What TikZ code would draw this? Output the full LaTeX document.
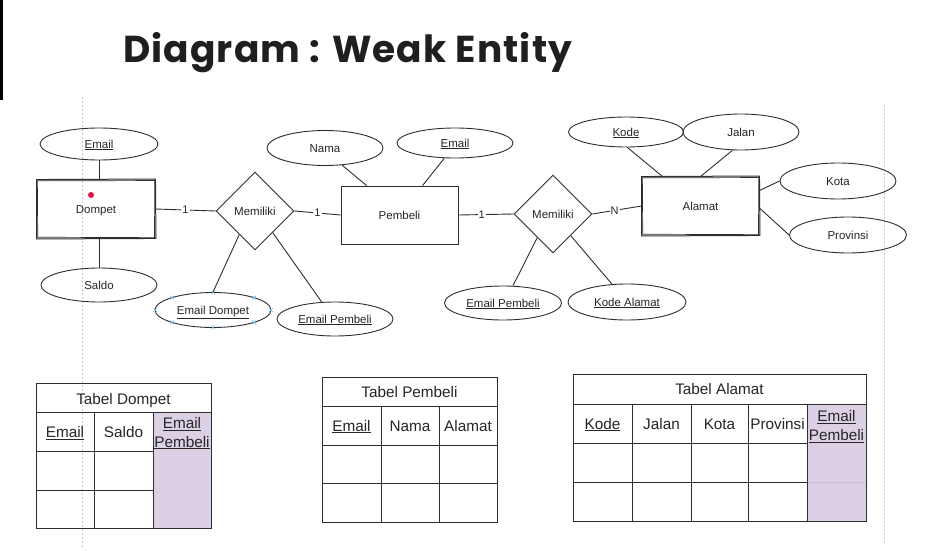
\documentclass[tikz,border=0pt]{standalone}
\usepackage{fontspec}
\setmainfont{Liberation Sans}
\newfontfamily\titlefont[LetterSpace=3]{Poppins}
\usetikzlibrary{shapes.geometric,calc}
\definecolor{ln}{HTML}{2E2E2E}
\definecolor{lav}{HTML}{DCD0E5}
\definecolor{lavline}{HTML}{C9BDD3}
\definecolor{guide}{HTML}{C8C8C8}
\definecolor{selc}{HTML}{6EC6F0}
\definecolor{dotred}{HTML}{E3173E}
\newcommand\ulx[1]{\underline{#1}}
\begin{document}
\begin{tikzpicture}[x=1pt,y=-1pt,
  erfont/.style={text=black!85, font=\fontsize{11.5}{13}\selectfont, text height=8.2pt, text depth=0pt},
  attr/.style={ellipse, draw=ln, line width=0.9pt, inner sep=0pt, erfont},
  ent/.style={rectangle, draw=ln, line width=0.9pt, inner sep=0pt, erfont},
  rel/.style={diamond, draw=ln, line width=0.9pt, inner sep=0pt, minimum width=78pt, minimum height=78pt, erfont},
  conn/.style={draw=ln, line width=0.9pt},
  card/.style={fill=white, inner sep=1pt, text=black!85, font=\fontsize{11}{12}\selectfont, text height=7.8pt, text depth=0pt},
  tline/.style={draw=ln, line width=1pt},
  ttext/.style={font=\fontsize{15.3}{18}\selectfont, inner sep=0pt, text=black!85, anchor=base},
  sketch/.style={draw=ln, line width=0.7pt},
  guideline/.style={draw=guide, line width=0.8pt, dash pattern=on 2pt off 2pt},
  selmark/.style={draw=selc, line width=0.6pt}
]
\useasboundingbox (0,0) rectangle (945,551);
\fill[white] (0,0) rectangle (945,551);
\fill[black] (0,0) rectangle (2.5,100);
\draw[guideline] (82,97) -- (82,548);
\draw[guideline] (884,105) -- (884,545);

% title
\node[anchor=base west, inner sep=0pt, text=black!88] (title) at (123,63)
  {\resizebox{449pt}{!}{\titlefont\bfseries Diagram : Weak Entity}};

% ER nodes
\node[attr, minimum width=118pt, minimum height=32pt] (emailD) at (99,144) {\ulx{Email}};
\node[ent, minimum width=118pt, minimum height=58pt, draw=none] (dompet) at (96,209) {Dompet};
\node[attr, minimum width=116pt, minimum height=34pt] (saldo) at (99,285) {Saldo};
\node[rel] (rel1) at (255,211) {Memiliki};
\node[attr, minimum width=116pt, minimum height=35pt] (emDom) at (213,310) {\ulx{Email Dompet}};
\node[attr, minimum width=116pt, minimum height=34pt] (ep1) at (335,319) {\ulx{Email Pembeli}};
\node[ent, minimum width=117pt, minimum height=58pt] (pembeli) at (399.5,215) {Pembeli};
\node[attr, minimum width=116pt, minimum height=35pt] (nama) at (325,148) {Nama};
\node[attr, minimum width=116pt, minimum height=30pt] (emailP) at (455,143) {\ulx{Email}};
\node[rel] (rel2) at (553,214) {Memiliki};
\node[ent, minimum width=117pt, minimum height=58pt, draw=none] (alamat) at (700.5,206) {Alamat};
\node[attr, minimum width=115pt, minimum height=30pt] (kode) at (626,132) {\ulx{Kode}};
\node[attr, minimum width=116pt, minimum height=36pt] (jalan) at (741,132) {Jalan};
\node[attr, minimum width=116pt, minimum height=36pt] (kota) at (838,181) {Kota};
\node[attr, minimum width=117pt, minimum height=36pt] (prov) at (848,235) {Provinsi};
\node[attr, minimum width=117pt, minimum height=34pt] (ep2) at (503,303) {\ulx{Email Pembeli}};
\node[attr, minimum width=118pt, minimum height=36pt] (kodeA) at (627,302) {\ulx{Kode Alamat}};

% sketchy outlines of the hand-drawn entities
\foreach \n in {dompet,alamat}{
  \draw[sketch, line width=1pt] (\n.north west) -- ($(\n.north east)+(0,-0.5)$) -- ($(\n.south east)+(0.5,0)$) -- ($(\n.south west)+(0,0.5)$) -- cycle;
  \draw[sketch] ($(\n.north west)+(0.8,1.3)$) -- ($(\n.north east)+(-0.6,1.0)$) -- ($(\n.south east)+(-1.0,-0.8)$) -- ($(\n.south west)+(1.2,-1.2)$) -- cycle;
}
\fill[dotred] (91,195) circle (3pt);

% selection handles on Email Dompet
\foreach \a in {0,45,...,315}{
  \draw[selmark] ($(emDom.center)+({58*cos(\a)-1.8},{17.5*sin(\a)-1.8})$) -- +(3.6,3.6);
  \draw[selmark] ($(emDom.center)+({58*cos(\a)-1.8},{17.5*sin(\a)+1.8})$) -- +(3.6,-3.6);
}

% connectors
\draw[conn] (emailD.south) -- (emailD.south |- dompet.north);
\draw[conn] (dompet.south -| saldo.north) -- (saldo.north);
\draw[conn] (dompet.east) -- node[card]{1} (rel1.west);
\draw[conn] (rel1.east) -- node[card]{1} (pembeli.west);
\draw[conn] ($(rel1.south)!0.4!(rel1.west)$) -- (emDom.north);
\draw[conn] ($(rel1.south)!0.45!(rel1.east)$) -- (ep1.128);
\draw[conn] (nama.-45) -- ($(pembeli.north west)+(26,0)$);
\draw[conn] (emailP.-125) -- ($(pembeli.north west)+(82,0)$);
\draw[conn] (pembeli.east) -- node[card, pos=0.42]{1} (rel2.west);
\draw[conn] (rel2.east) -- node[card, pos=0.45]{N} (alamat.west);
\draw[conn] ($(rel2.south)!0.4!(rel2.west)$) -- (ep2.60);
\draw[conn] ($(rel2.south)!0.45!(rel2.east)$) -- (kodeA.130);
\draw[conn] (kode.-85) -- ($(alamat.north west)+(21,0)$);
\draw[conn] (jalan.-115) -- ($(alamat.north west)+(59,0)$);
\draw[conn] ($(alamat.north east)+(0,14)$) -- (kota.west);
\draw[conn] ($(alamat.east)+(0,2)$) -- (prov.west);

% Tabel Dompet
\fill[lav] (153,412) rectangle (211,528);
\draw[tline] (36,383) rectangle (211,528);
\draw[tline] (36,412) -- (211,412);
\draw[tline] (36,451) -- (153,451);
\draw[tline] (36,490) -- (153,490);
\draw[tline] (94,412) -- (94,528);
\draw[tline] (153,412) -- (153,528);
\node[ttext] (tdT) at (123.5,404) {Tabel Dompet};
\node[ttext] (tdA) at (65,437.5) {\ulx{Email}};
\node[ttext] (tdB) at (123.5,437.5) {Saldo};
\node[ttext] (tdC1) at (182,428.5) {\ulx{Email}};
\node[ttext] (tdC2) at (182,447) {\ulx{Pembeli}};

% Tabel Pembeli
\draw[tline] (322,377) rectangle (497,522);
\draw[tline] (322,406) -- (497,406);
\draw[tline] (322,445) -- (497,445);
\draw[tline] (322,483) -- (497,483);
\draw[tline] (381,406) -- (381,522);
\draw[tline] (439,406) -- (439,522);
\node[ttext] (tpT) at (409.5,397) {Tabel Pembeli};
\node[ttext] (tpA) at (351.5,431) {\ulx{Email}};
\node[ttext] (tpB) at (410,431) {Nama};
\node[ttext] (tpC) at (468,431) {Alamat};

% Tabel Alamat
\fill[lav] (807,404) rectangle (866,521);
\draw[draw=lavline, line width=0.8pt] (807,482) -- (866,482);
\draw[tline] (573,374) rectangle (866,521);
\draw[tline] (573,404) -- (866,404);
\draw[tline] (573,443) -- (807,443);
\draw[tline] (573,482) -- (807,482);
\foreach \x in {632,691,748,807} \draw[tline] (\x,404) -- (\x,521);
\node[ttext] (taT) at (719.5,394.5) {Tabel Alamat};
\node[ttext] (taA) at (602.5,429) {\ulx{Kode}};
\node[ttext] (taB) at (661.5,429) {Jalan};
\node[ttext] (taC) at (719.5,429) {Kota};
\node[ttext] (taD) at (777.5,429) {Provinsi};
\node[ttext] (taE1) at (836.5,421.5) {\ulx{Email}};
\node[ttext] (taE2) at (836.5,440.5) {\ulx{Pembeli}};
\end{tikzpicture}
\end{document}
